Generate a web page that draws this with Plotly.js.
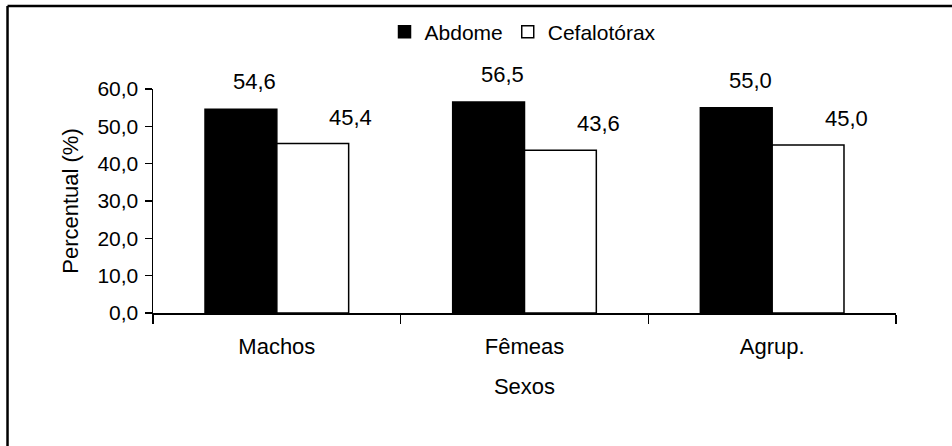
<!DOCTYPE html>
<html>
<head>
<meta charset="utf-8">
<script src="https://cdn.plot.ly/plotly-3.0.1.min.js"></script>
<style>
html,body{margin:0;padding:0;background:#fff;}
#chart{width:952px;height:446px;}
</style>
</head>
<body>
<div id="chart"></div>
<script>
const categories = ["Machos", "Fêmeas", "Agrup."];
const abdome = [54.6, 56.5, 55.0];
const cefalotorax = [45.4, 43.6, 45.0];
const seriesNames = ["Abdome", "Cefalotórax"];

const FONT = "Liberation Sans, Arial, sans-serif";
const fmt = v => v.toFixed(1).replace('.', ',');

const traces = [
  {
    type: 'bar', name: seriesNames[0], x: categories, y: abdome,
    marker: {color: '#000000', line: {color: '#000000', width: 1.5}},
    hoverinfo: 'none'
  },
  {
    type: 'bar', name: seriesNames[1], x: categories, y: cefalotorax,
    marker: {color: '#ffffff', line: {color: '#000000', width: 1.5}},
    hoverinfo: 'none'
  }
];

const annotations = [];
categories.forEach((c, i) => {
  annotations.push({x: c, y: abdome[i], xref: 'x', yref: 'y', text: fmt(abdome[i]),
    showarrow: false, xshift: -22, yshift: 13, yanchor: 'bottom',
    font: {family: FONT, size: 22, color: '#000'}});
  annotations.push({x: c, y: cefalotorax[i], xref: 'x', yref: 'y', text: fmt(cefalotorax[i]),
    showarrow: false, xshift: 74, yshift: 12, yanchor: 'bottom',
    font: {family: FONT, size: 22, color: '#000'}});
});

const layout = {
  width: 952, height: 446,
  margin: {l: 153, r: 56, t: 89, b: 133, pad: 0},
  paper_bgcolor: '#ffffff', plot_bgcolor: '#ffffff',
  separators: ',.',
  barmode: 'group', bargap: 0.42, bargroupgap: 0,
  showlegend: true,
  legend: {orientation: 'h', x: 0.498, xanchor: 'center', y: 1.254, yanchor: 'middle',
    font: {family: FONT, size: 21, color: '#000'}, traceorder: 'normal',
    itemwidth: 30, bgcolor: 'rgba(0,0,0,0)'},
  xaxis: {
    type: 'category', range: [-0.5, 2.5], fixedrange: true,
    showline: true, linecolor: '#000', linewidth: 1.5,
    ticks: 'outside', tickson: 'boundaries', ticklen: 9, tickwidth: 1.5, tickcolor: '#000',
    showgrid: false, zeroline: false,
    tickfont: {family: FONT, size: 22, color: '#000'},
    ticklabelstandoff: 13,
    title: {text: 'Sexos', font: {family: FONT, size: 22, color: '#000'}, standoff: 20}
  },
  yaxis: {
    range: [0, 60], dtick: 10, tick0: 0, tickformat: '.1f', fixedrange: true,
    showline: true, linecolor: '#000', linewidth: 1.5,
    ticks: 'outside', ticklen: 7, tickwidth: 1.5, tickcolor: '#000',
    showgrid: false, zeroline: false,
    tickfont: {family: FONT, size: 21, color: '#000'},
    ticklabelstandoff: 2,
    title: {text: 'Percentual (%)', font: {family: FONT, size: 22, color: '#000'}, standoff: 12}
  },
  annotations: annotations,
  shapes: [
    {type: 'line', xref: 'paper', yref: 'paper', x0: -0.1958, x1: -0.1958, y0: -0.7, y1: 1.3705,
      line: {color: '#000', width: 2.5}},
    {type: 'line', xref: 'paper', yref: 'paper', x0: -0.1958, x1: 1.2, y0: 1.3705, y1: 1.3705,
      line: {color: '#000', width: 2.5}}
  ]
};

Plotly.newPlot('chart', traces, layout, {staticPlot: true, displayModeBar: false});
</script>
</body>
</html>
